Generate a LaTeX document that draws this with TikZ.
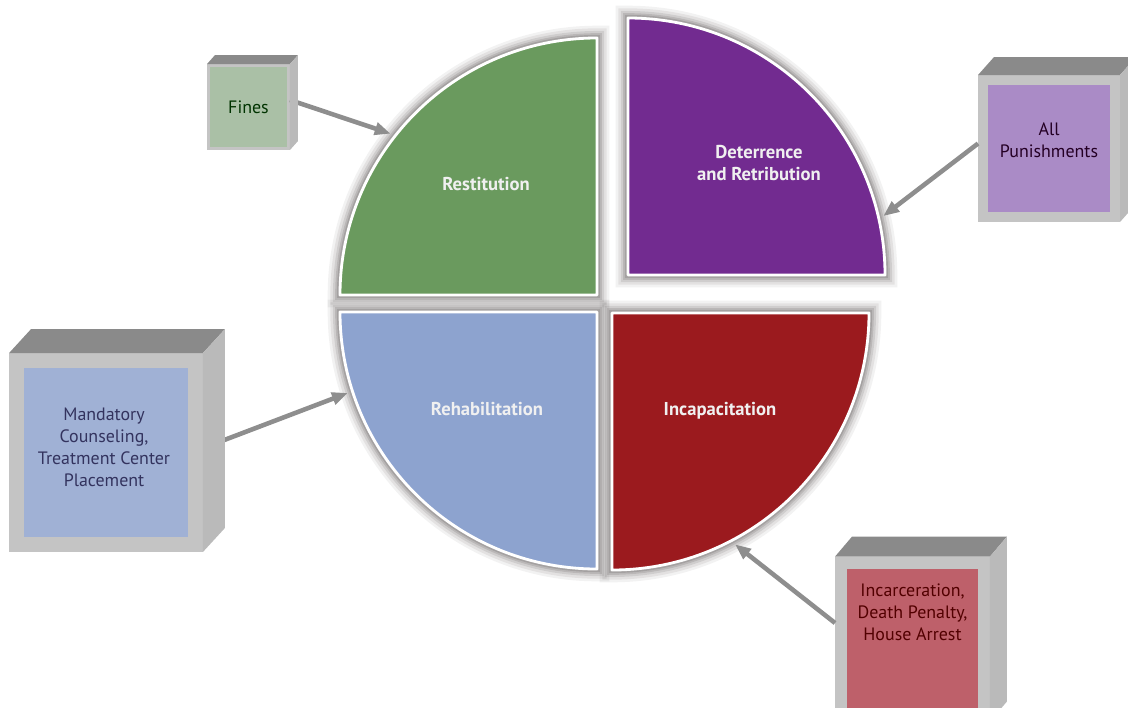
\documentclass[tikz,border=0pt]{standalone}
\usepackage{fontspec}
\setmainfont{PT Sans}
\usetikzlibrary{arrows.meta,calc}

\definecolor{restgreen}{RGB}{106,154,94}
\definecolor{detpurple}{RGB}{114,43,144}
\definecolor{rehabblue}{RGB}{141,163,207}
\definecolor{incapred}{RGB}{155,26,30}
\definecolor{finesfill}{RGB}{170,192,166}
\definecolor{allpfill}{RGB}{170,139,198}
\definecolor{mandfill}{RGB}{160,177,213}
\definecolor{incfill}{RGB}{190,96,106}
\definecolor{cubeframe}{RGB}{196,196,196}
\definecolor{cubetop}{RGB}{138,138,138}
\definecolor{cubeside}{RGB}{186,186,186}
\definecolor{arrowgray}{RGB}{142,142,142}
\definecolor{glowgray}{RGB}{90,84,84}

% top and right faces of a box node: node, dx, dy
\newcommand{\cubesides}[3]{%
  \fill[cubetop] (#1.north west) -- ++(#2,#3) -- ($(#1.north east)+(#2,#3)$) -- (#1.north east) -- cycle;
  \fill[cubeside] (#1.north east) -- ++(#2,#3) -- ($(#1.south east)+(#2,#3)$) -- (#1.south east) -- cycle;
}

\tikzset{
  quarter/.style={fill=#1, draw=white, line width=1.6pt, line join=round,
    preaction={draw=glowgray, opacity=0.08, line width=14pt},
    preaction={draw=glowgray, opacity=0.10, line width=11pt},
    preaction={draw=glowgray, opacity=0.14, line width=8pt},
    preaction={draw=glowgray, opacity=0.18, line width=5.5pt},
    preaction={draw=glowgray, opacity=0.22, line width=3.5pt}},
  cube/.style={rectangle, fill=#1, draw=cubeframe, inner sep=0pt},
  cubetxt/.style={align=center, font=\fontsize{10.2}{12.4}\selectfont},
  qtxt/.style={align=center, text=white!88!gray, font=\bfseries\fontsize{10.6}{12.2}\selectfont},
  feed/.style={draw=arrowgray, line width=2.6pt, -{Triangle[length=9pt,width=7pt]}}
}

\begin{document}
\begin{tikzpicture}[x=0.02cm,y=0.02cm]
  \useasboundingbox (0,0) rectangle (1128,-707);
  \clip (0,0) rectangle (1128,-707);

  % corners of the four quarters
  \coordinate (gC) at (597,-295);
  \coordinate (pC) at (628,-275);
  \coordinate (bC) at (597,-312);
  \coordinate (rC) at (612,-313);

  \draw[quarter=restgreen] (gC) -- ++(180:257) arc[start angle=180, end angle=90, radius=257] -- cycle;
  \draw[quarter=detpurple] (pC) -- ++(90:257) arc[start angle=90, end angle=0, radius=257] -- cycle;
  \draw[quarter=rehabblue] (bC) -- ++(180:257) arc[start angle=180, end angle=270, radius=257] -- cycle;
  \draw[quarter=incapred] (rC) -- ++(0:257) arc[start angle=0, end angle=-90, radius=257] -- cycle;

  \node[qtxt] (rest) at (486,-184) {Restitution};
  \node[qtxt] (det) at (759,-163) {Deterrence\\and Retribution};
  \node[qtxt] (rehab) at (487,-409) {Rehabilitation};
  \node[qtxt] (incap) at (720,-411) {Incapacitation};

  % arrow ends on the rims
  \coordinate (rest-in) at ($(gC)+(142:262)$);
  \coordinate (det-in) at ($(pC)+(13:262)$);
  \coordinate (rehab-in) at ($(bC)+(198:262)$);
  \coordinate (incap-in) at ($(rC)+(-62:262)$);

  % boxes
  \node[cube=finesfill, line width=1.7pt, minimum width=1.60cm, minimum height=1.66cm] (fines) at (248.5,-107) {};
  \node[cube=allpfill, line width=5.7pt, minimum width=2.64cm, minimum height=2.74cm] (allp) at (1049,-148.5) {};
  \node[cube=mandfill, line width=8.5pt, minimum width=3.58cm, minimum height=3.68cm] (mand) at (106,-452.5) {};
  \node[cube=incfill, line width=6.8pt, minimum width=2.86cm, minimum height=3.06cm] (inc) at (912.5,-639) {};

  \draw[feed] ($(fines.east)+(0,7)$) -- (rest-in);
  \draw[feed] ($(allp.west)+(0,5)$) -- (det-in);
  \draw[feed] ($(mand.east)+(20,12)$) -- (rehab-in);
  \draw[feed] ($(inc.west)+(0,16)$) -- (incap-in);

  \cubesides{fines}{8}{9}
  \cubesides{allp}{16}{18}
  \cubesides{mand}{22}{24}
  \cubesides{inc}{17}{20}

  \node[cubetxt, text=black!80!green] (fines-txt) at (fines) {Fines};
  \node[cubetxt, text=black!72!violet] (allp-txt) at ($(allp)+(0,8)$) {All\\Punishments};
  \node[cubetxt, text=black!72!blue!60!gray] (mand-txt) at ($(mand)+(-2,5)$) {Mandatory\\Counseling,\\Treatment Center\\Placement};
  \node[cubetxt, text=black!68!red] (inc-txt) at ($(inc)+(0,27)$) {Incarceration,\\Death Penalty,\\House Arrest};
\end{tikzpicture}
\end{document}
